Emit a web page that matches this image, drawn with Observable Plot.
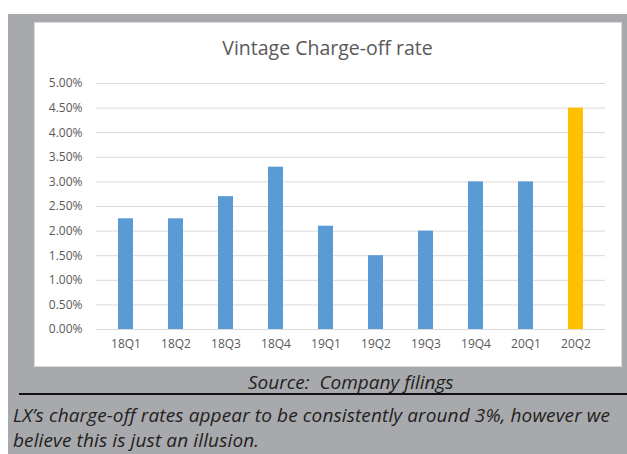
<!DOCTYPE html>
<html>
<head>
<meta charset="utf-8">
<script src="https://cdn.jsdelivr.net/npm/d3@7"></script>
<script src="https://cdn.jsdelivr.net/npm/@observablehq/plot@0.6"></script>
<style>
  html, body { margin: 0; padding: 0; background: #ffffff; width: 627px; height: 454px; overflow: hidden; }
  #gray { position: absolute; left: 8px; top: 14px; width: 619px; height: 440px; background: #a7a9ac; }
  #panel { position: absolute; left: 34px; top: 22px; width: 586px; height: 343px; background: #ffffff; border: 1px solid #d9d9d9; }
  #title { position: absolute; left: 33px; top: 36px; width: 589px; text-align: center; font-family: "Open Sans", sans-serif; font-size: 19.5px; color: #595959; line-height: 24px; }
  #chart { position: absolute; left: 33px; top: 60px; }
  #source { position: absolute; left: 248px; top: 370px; white-space: nowrap; font-family: "Open Sans", sans-serif; font-style: italic; font-size: 19px; color: #231f20; line-height: 24px; }
  #rule { position: absolute; left: 19px; top: 393px; width: 608px; height: 2px; background: #111111; }
  #note { position: absolute; left: 13px; top: 403px; width: 614px; white-space: nowrap; font-family: "Open Sans", sans-serif; font-style: italic; font-size: 19px; color: #231f20; line-height: 25px; letter-spacing: 0.12px; }
</style>
</head>
<body>
<div id="gray"></div>
<div id="panel"></div>
<div id="title">Vintage Charge-off rate</div>
<div id="chart"></div>
<div id="source">Source:&nbsp; Company filings</div>
<div id="rule"></div>
<div id="note">LX’s charge-off rates appear to be consistently around 3%, however we<br>believe this is just an illusion.</div>
<script>
const quarters = ["18Q1", "18Q2", "18Q3", "18Q4", "19Q1", "19Q2", "19Q3", "19Q4", "20Q1", "20Q2"];
const rates = [2.25, 2.25, 2.7, 3.3, 2.1, 1.5, 2.0, 3.0, 3.0, 4.5];
const yTicks = [0, 0.5, 1, 1.5, 2, 2.5, 3, 3.5, 4, 4.5, 5];
const highlighted = "20Q2";

const data = quarters.map((q, i) => ({q, v: rates[i]}));

const chart = Plot.plot({
  width: 589,
  height: 307,
  marginTop: 23,
  marginBottom: 38,
  marginLeft: 63,
  marginRight: 17,
  style: {fontFamily: "Open Sans, sans-serif", fontSize: "12px", color: "#595959", background: "transparent"},
  x: {domain: quarters, paddingInner: 0.7, paddingOuter: 0.35, label: null, tickSize: 0, tickPadding: 10},
  y: {domain: [0, 5], ticks: yTicks, tickFormat: d => d.toFixed(2) + "%", label: null, tickSize: 0, tickPadding: 14},
  color: {type: "identity"},
  marks: [
    Plot.ruleY(yTicks, {stroke: "#d9d9d9", strokeWidth: 1}),
    Plot.barY(data, {x: "q", y: "v", fill: d => d.q === highlighted ? "#ffc000" : "#5b9bd5"})
  ]
});
document.getElementById("chart").appendChild(chart);
</script>
</body>
</html>
